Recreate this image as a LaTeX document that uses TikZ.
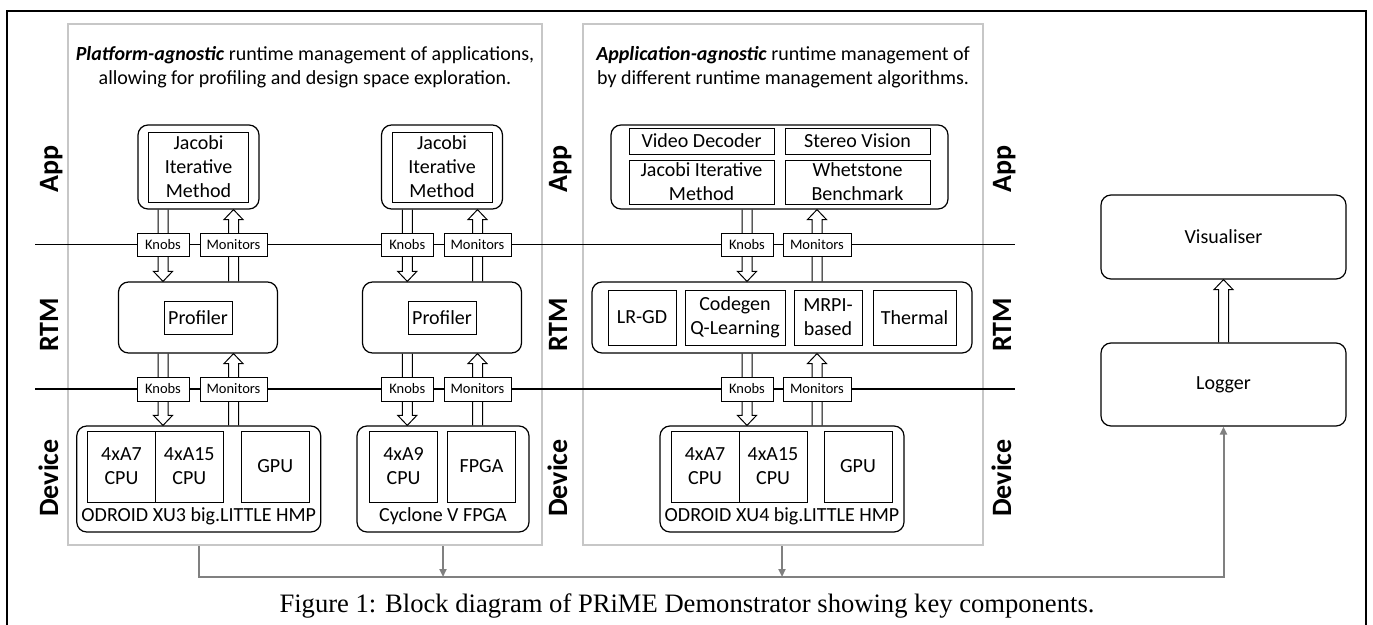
\documentclass[tikz,border=0pt]{standalone}
\usepackage{fontspec}
\setmainfont{Carlito}
\newfontfamily\capfont{Liberation Serif}
\usetikzlibrary{calc,arrows.meta}
\pgfdeclarelayer{bg}
\pgfsetlayers{bg,main}
\newcommand\fsz[1]{\fontsize{#1}{24}\selectfont}
\newcommand\barrowdown[2]{%
  \path (#1) coordinate (bas) (#2) coordinate (bat);
  \draw[blockarr] ($(bas)+(-5,0)$) -- ($(bat)+(-5,-10)$) -- ($(bat)+(-9.5,-10)$) -- (bat)
     -- ($(bat)+(9.5,-10)$) -- ($(bat)+(5,-10)$) -- ($(bas)+(5,0)$);}
\newcommand\barrowup[2]{%
  \path (#1) coordinate (bas) (#2) coordinate (bat);
  \draw[blockarr] ($(bas)+(-5,0)$) -- ($(bat)+(-5,10)$) -- ($(bat)+(-9.5,10)$) -- (bat)
     -- ($(bat)+(9.5,10)$) -- ($(bat)+(5,10)$) -- ($(bas)+(5,0)$);}
\tikzset{
  rbox/.style={draw, line width=1.2pt, rounded corners=10pt, fill=white, inner sep=0pt},
  ibox/.style={draw, line width=1pt, fill=white, inner sep=0pt, align=center, font=\fsz{20}},
  plain/.style={inner sep=0pt, align=center, font=\fsz{20}},
  tag/.style={draw, line width=0.9pt, fill=white, inner sep=0pt, font=\fontsize{14.5}{17}\selectfont},
  rowlbl/.style={rotate=90, anchor=base, inner sep=0pt, font=\bfseries\fontsize{28}{30}\selectfont},
  panel/.style={draw=black!22, line width=2.5pt, inner sep=0pt},
  blockarr/.style={draw, line width=1pt, fill=white, line join=miter},
  glink/.style={draw=black!50, line width=2pt},
  gtip/.style={-{Triangle[length=8pt,width=7pt]}},
}
\begin{document}
\begin{tikzpicture}[x=1pt,y=-1pt]
\useasboundingbox (0,0) rectangle (1373,624);

% ---------- App layer ----------
\node[rbox, minimum width=121pt, minimum height=84pt] (app1) at (198.5,167) {};
\node[ibox, minimum width=100pt, minimum height=70pt] (jac1) at (198.5,167) {Jacobi\\Iterative\\Method};
\node[rbox, minimum width=121pt, minimum height=84pt] (app2) at (442,167) {};
\node[ibox, minimum width=100pt, minimum height=70pt] (jac2) at (442,167) {Jacobi\\Iterative\\Method};
\node[rbox, minimum width=337pt, minimum height=84pt] (app3) at (779.5,167) {};
\node[ibox, minimum width=145pt, minimum height=26pt] (vid) at (701.5,141) {Video Decoder};
\node[ibox, minimum width=145pt, minimum height=26pt] (ste) at (857.5,141) {Stereo Vision};
\node[ibox, minimum width=145pt, minimum height=44pt] (jac3) at (701.5,182) {Jacobi Iterative\\Method};
\node[ibox, minimum width=145pt, minimum height=44pt] (whe) at (857.5,182) {Whetstone\\Benchmark};

% ---------- RTM layer ----------
\node[rbox, minimum width=159pt, minimum height=71pt] (rtm1) at (198,317.5) {};
\node[ibox, minimum width=68pt, minimum height=33pt] (prof1) at (198,317.5) {Profiler};
\node[rbox, minimum width=159pt, minimum height=71pt] (rtm2) at (442,317.5) {};
\node[ibox, minimum width=68pt, minimum height=33pt] (prof2) at (442,317.5) {Profiler};
\node[rbox, minimum width=380pt, minimum height=71pt] (rtm3) at (782,317.5) {};
\node[ibox, minimum width=68pt, minimum height=55pt] (lrgd) at (642,317.5) {LR-GD};
\node[ibox, minimum width=100pt, minimum height=55pt] (cql) at (735,317.5) {Codegen\\Q-Learning};
\node[ibox, minimum width=68pt, minimum height=55pt] (mrpi) at (828,317.5) {MRPI-\\based};
\node[ibox, minimum width=83pt, minimum height=55pt] (therm) at (914.5,317.5) {Thermal};

% ---------- Device layer ----------
\node[rbox, minimum width=244pt, minimum height=106pt] (dev1) at (198.75,479) {};
\node[ibox, minimum width=68pt, minimum height=71pt] (a7a) at (121.5,466.5) {4xA7\\CPU};
\node[ibox, minimum width=68pt, minimum height=71pt] (a15a) at (189.3,466.5) {4xA15\\CPU};
\node[ibox, minimum width=68pt, minimum height=71pt] (gpua) at (275.2,466.5) {GPU};
\node[plain] (dev1l) at (198.75,516) {ODROID XU3 big.LITTLE HMP};
\node[rbox, minimum width=172pt, minimum height=106pt] (dev2) at (443,479) {};
\node[ibox, minimum width=68pt, minimum height=71pt] (a9) at (403.5,466.5) {4xA9\\CPU};
\node[ibox, minimum width=68pt, minimum height=71pt] (fpga) at (481.5,466.5) {FPGA};
\node[plain] (dev2l) at (443,516) {Cyclone V FPGA};
\node[rbox, minimum width=244pt, minimum height=106pt] (dev3) at (782,479) {};
\node[ibox, minimum width=68pt, minimum height=71pt] (a7b) at (705,466.5) {4xA7\\CPU};
\node[ibox, minimum width=68pt, minimum height=71pt] (a15b) at (773,466.5) {4xA15\\CPU};
\node[ibox, minimum width=68pt, minimum height=71pt] (gpub) at (858,466.5) {GPU};
\node[plain] (dev3l) at (782,516) {ODROID XU4 big.LITTLE HMP};

% ---------- Knobs / Monitors ----------
\foreach \n/\x/\w/\t in {kn1u/163/52/Knobs, mo1u/233.5/67/Monitors, kn2u/407.3/52/Knobs, mo2u/477.5/67/Monitors, kn3u/747/52/Knobs, mo3u/817/68/Monitors}
  \node[tag, minimum width=\w pt, minimum height=23pt] (\n) at (\x,244.5) {\t};
\foreach \n/\x/\w/\t in {kn1l/163/52/Knobs, mo1l/233.5/67/Monitors, kn2l/407.3/52/Knobs, mo2l/477.5/67/Monitors, kn3l/747/52/Knobs, mo3l/817/68/Monitors}
  \node[tag, minimum width=\w pt, minimum height=24pt] (\n) at (\x,389) {\t};

% ---------- Logger / Visualiser ----------
\node[rbox, minimum width=245pt, minimum height=84pt, font=\fsz{20}] (vis) at (1223.5,237) {Visualiser};
\node[rbox, minimum width=245pt, minimum height=83pt, font=\fsz{20}] (log) at (1223.5,384.5) {Logger};

% ---------- Row labels ----------
\foreach \x in {58,567,1011}{
  \node[rowlbl] at (\x,169) {App};
  \node[rowlbl] at (\x,325) {RTM};
  \node[rowlbl] at (\x,478) {Device};
}

% ---------- Caption ----------
\node[anchor=base, inner sep=0pt, font=\capfont\fontsize{26.6}{30}\selectfont] (cap) at (687,612)
  {Figure 1: Block diagram of PRiME Demonstrator showing key components.};

\begin{pgfonlayer}{bg}
  % outer frame
  \draw[line width=2pt] (7,630) -- (7,10.7) -- (1366,10.7) -- (1366,630);
  % panels
  \node[panel, minimum width=474pt, minimum height=521pt] (p1) at (305,284.5) {};
  \node[panel, minimum width=400pt, minimum height=521pt] (p2) at (783,284.5) {};
  \node[plain, font=\fsz{20}] (t1) at (305,67.5)
    {\textbf{\textit{Platform-agnostic}} runtime management of applications,\\allowing for profiling and design space exploration.};
  \node[plain, font=\fsz{20}] (t2) at (783,67.5)
    {\textbf{\textit{Application-agnostic}} runtime management of\\by different runtime management algorithms.};
  % separators
  \coordinate (s1a) at (35,244.5); \coordinate (s1b) at (1015,244.5);
  \coordinate (s2a) at (35,389); \coordinate (s2b) at (1015,389);
  \draw[line width=1.1pt] (s1a) -- (s1b);
  \draw[line width=1.1pt] (s2a) -- (s2b);
  % block arrows
  \barrowdown{app1.south -| kn1u}{rtm1.north -| kn1u}
  \barrowup{rtm1.north -| mo1u}{app1.south -| mo1u}
  \barrowdown{app2.south -| kn2u}{rtm2.north -| kn2u}
  \barrowup{rtm2.north -| mo2u}{app2.south -| mo2u}
  \barrowdown{app3.south -| kn3u}{rtm3.north -| kn3u}
  \barrowup{rtm3.north -| mo3u}{app3.south -| mo3u}
  \barrowdown{rtm1.south -| kn1l}{dev1.north -| kn1l}
  \barrowup{dev1.north -| mo1l}{rtm1.south -| mo1l}
  \barrowdown{rtm2.south -| kn2l}{dev2.north -| kn2l}
  \barrowup{dev2.north -| mo2l}{rtm2.south -| mo2l}
  \barrowdown{rtm3.south -| kn3l}{dev3.north -| kn3l}
  \barrowup{dev3.north -| mo3l}{rtm3.south -| mo3l}
  \barrowup{log.north}{vis.south}
  % gray links to logger
  \coordinate (busL) at (198.75,577);
  \draw[glink, gtip] (p1.south -| dev1.south) -- (busL) -- (busL -| log.south) -- (log.south);
  \draw[glink, gtip] (p1.south -| dev2.south) -- (dev2.south |- busL);
  \draw[glink, gtip] (p2.south -| dev3.south) -- (dev3.south |- busL);
\end{pgfonlayer}
\end{tikzpicture}
\end{document}
